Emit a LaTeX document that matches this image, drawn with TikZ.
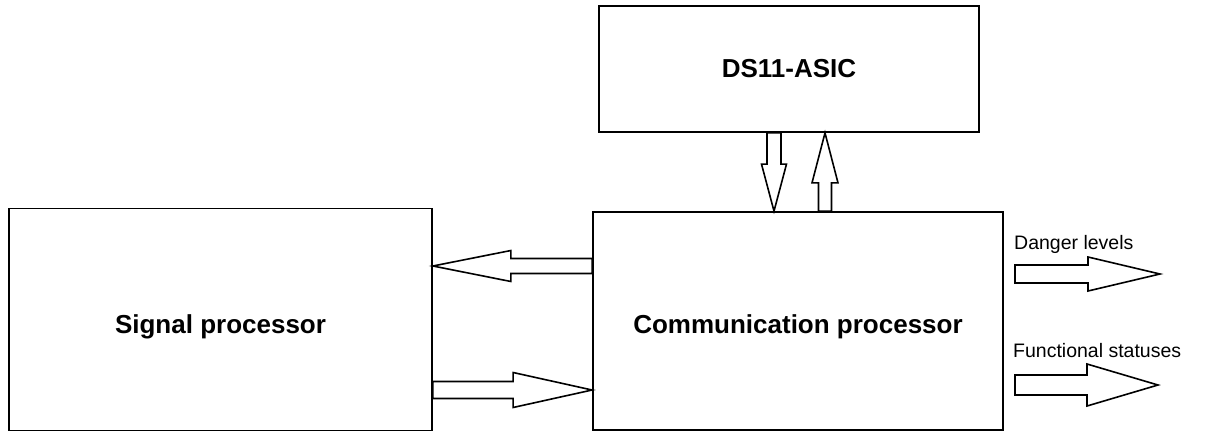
\documentclass[tikz,border=0pt]{standalone}
\usepackage{fontspec}
\setmainfont{Liberation Sans}
\usetikzlibrary{calc}
\tikzset{
  box/.style={draw=black, line width=1.8pt, fill=white, inner sep=0pt},
  bigtxt/.style={font=\fontsize{26}{30}\selectfont\bfseries, inner sep=0pt},
  smalltxt/.style={font=\fontsize{19.5}{23}\selectfont, inner sep=0pt, anchor=base west},
  blk/.style={draw=black, line width=1.6pt, fill=white, line join=miter},
}
% #1 from, #2 to (tip), #3 shaft half width, #4 head half width, #5 head length
\newcommand{\blockarr}[5]{%
  \coordinate (hb) at ($(#2)!#5!(#1)$);
  \draw[blk] ($(#1)!#3!90:(#2)$) -- ($(hb)!#3!90:(#2)$) -- ($(hb)!#4!90:(#2)$)
    -- (#2) -- ($(hb)!#4!-90:(#2)$) -- ($(hb)!#3!-90:(#2)$) -- ($(#1)!#3!-90:(#2)$) -- cycle;}
\begin{document}
\begin{tikzpicture}[x=1pt, y=-1pt]
\useasboundingbox (0,0) rectangle (1211,432);
% boxes
\node[box, minimum width=380pt, minimum height=126pt] (asic) at (789,69) {};
\node[box, minimum width=423pt, minimum height=222pt] (sig) at (220.5,319.5) {};
\node[box, minimum width=410pt, minimum height=218pt] (comm) at (798,321) {};
% box texts
\node[bigtxt] (asict) at (asic.center) {DS11-ASIC};
\node[bigtxt] (sigt) at ($(sig.center)+(0,7)$) {Signal processor};
\node[bigtxt] (commt) at ($(comm.center)+(0,6)$) {Communication processor};
% labels
\node[smalltxt] (dl) at (1014,249) {Danger levels};
\node[smalltxt] (fs) at (1013,357) {Functional statuses};
% connector end points
\coordinate (a1) at (comm.west |- 0,266);
\coordinate (a2) at (sig.east |- 0,266);
\coordinate (b1) at (sig.east |- 0,390);
\coordinate (b2) at (comm.west |- 0,390);
\coordinate (c1) at (774,0 |- asic.south);
\coordinate (c2) at (774,0 |- comm.north);
\coordinate (d1) at (825,0 |- comm.north);
\coordinate (d2) at (825,0 |- asic.south);
\coordinate (e1) at (1015,274);
\coordinate (e2) at (1160,274);
\coordinate (f1) at (1015,385);
\coordinate (f2) at (1158,385);
% block arrows
\blockarr{a1}{a2}{7.5pt}{15.5pt}{78pt}
\blockarr{b1}{b2}{8.5pt}{17.5pt}{79pt}
\blockarr{c1}{c2}{7pt}{12.5pt}{47pt}
\blockarr{d1}{d2}{6.5pt}{13pt}{50pt}
\blockarr{e1}{e2}{9pt}{17pt}{72pt}
\blockarr{f1}{f2}{10pt}{21pt}{71pt}
\end{tikzpicture}
\end{document}
